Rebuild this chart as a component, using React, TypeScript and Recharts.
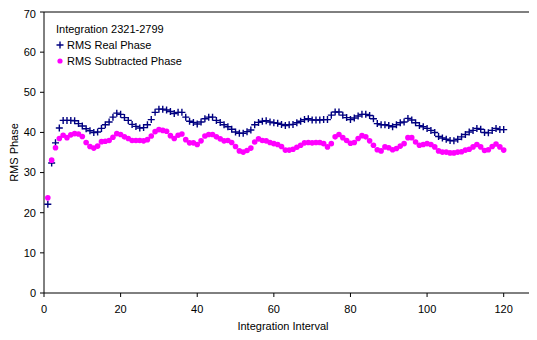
import React from 'react';
import {
  ScatterChart,
  Scatter,
  XAxis,
  YAxis,
  ReferenceLine,
  Legend,
} from 'recharts';

// RMS phase per integration interval (intervals 1..120)
const realPhase = [
  22.1, 32.4, 37.4, 41.1, 43.0, 43.0, 43.0, 42.9, 42.2, 41.6,
  40.9, 40.4, 40.0, 40.1, 41.0, 41.9, 42.6, 43.8, 44.8, 44.5,
  43.7, 43.0, 42.0, 41.5, 41.1, 41.2, 41.9, 43.2, 45.0, 45.8,
  45.8, 45.6, 45.2, 44.7, 45.0, 45.0, 43.8, 42.8, 42.5, 42.1,
  42.6, 43.4, 43.8, 43.8, 43.0, 42.5, 41.9, 41.4, 40.8, 40.1,
  39.8, 39.8, 40.2, 40.6, 41.9, 42.5, 42.8, 42.9, 42.6, 42.4,
  42.3, 42.0, 41.7, 41.9, 42.0, 42.4, 42.8, 43.2, 43.4, 43.1,
  43.1, 43.1, 43.2, 43.2, 44.3, 45.1, 45.1, 44.3, 43.7, 43.2,
  43.6, 44.1, 44.5, 44.5, 44.2, 43.4, 42.2, 41.9, 41.9, 41.7,
  41.4, 41.9, 42.4, 42.6, 43.5, 43.1, 42.4, 41.7, 41.4, 41.0,
  40.5, 40.0, 39.0, 38.6, 38.3, 38.0, 37.9, 38.3, 38.9, 39.5,
  40.1, 40.5, 41.0, 40.8, 40.0, 39.9, 40.5, 41.0, 40.7, 40.7,
];

const subtractedPhase = [
  23.7, 33.1, 36.2, 38.5, 39.3, 38.7, 39.4, 39.7, 39.6, 39.0,
  37.5, 36.5, 36.1, 36.6, 37.7, 37.8, 38.0, 38.8, 39.7, 39.5,
  38.9, 38.5, 38.0, 38.0, 38.0, 37.9, 38.2, 39.1, 40.2, 40.7,
  40.5, 40.3, 39.2, 38.5, 39.3, 39.6, 38.2, 37.4, 37.4, 37.0,
  37.9, 39.1, 39.5, 39.5, 38.9, 38.4, 37.9, 38.0, 37.5, 36.5,
  35.4, 35.1, 35.5, 36.1, 37.6, 38.4, 38.0, 37.9, 37.5, 37.2,
  37.0, 36.5, 35.6, 35.6, 35.8, 36.3, 36.8, 37.4, 37.5, 37.4,
  37.5, 37.5, 37.2, 36.4, 37.2, 38.9, 39.5, 38.7, 38.0, 37.3,
  37.5, 38.5, 39.2, 38.9, 37.9, 36.8, 35.7, 35.4, 36.4, 36.2,
  35.7, 36.0, 36.6, 37.2, 38.7, 38.7, 37.6, 36.8, 37.0, 37.2,
  37.0, 36.4, 35.4, 35.1, 35.1, 34.9, 34.9, 35.1, 35.2, 35.6,
  35.8, 36.4, 37.0, 36.4, 35.5, 35.7, 36.5, 37.1, 36.4, 35.6,
];

const intervals = realPhase.map((_, i) => i + 1);

const xTicks = [0, 20, 40, 60, 80, 100, 120];
const yTicks = [0, 10, 20, 30, 40, 50, 60, 70];

const REAL_COLOR = '#000080';
const SUB_COLOR = '#FF00FF';
const FONT = '"Liberation Sans", Arial, sans-serif';

const realData = intervals.map((x, i) => ({ x, y: realPhase[i] }));
const subData = intervals.map((x, i) => ({ x, y: subtractedPhase[i] }));

const PlusMark = (props: any) => {
  const { cx, cy } = props;
  if (cx == null || cy == null) return null;
  return (
    <path
      d={`M${cx - 3.5},${cy}H${cx + 3.5}M${cx},${cy - 3.5}V${cy + 3.5}`}
      stroke={REAL_COLOR}
      strokeWidth={1.4}
    />
  );
};

const DotMark = (props: any) => {
  const { cx, cy } = props;
  if (cx == null || cy == null) return null;
  return <circle cx={cx} cy={cy} r={2.8} fill={SUB_COLOR} />;
};

const LegendBox = () => (
  <div style={{ fontFamily: FONT, fontSize: 11, lineHeight: '16px', color: '#000' }}>
    <div>Integration 2321-2799</div>
    <div style={{ display: 'flex', alignItems: 'center' }}>
      <svg width={8} height={8} style={{ marginRight: 3 }}>
        <path d="M0.5,4H7.5M4,0.5V7.5" stroke={REAL_COLOR} strokeWidth={1.4} />
      </svg>
      RMS Real Phase
    </div>
    <div style={{ display: 'flex', alignItems: 'center' }}>
      <svg width={8} height={8} style={{ marginRight: 3 }}>
        <circle cx={4} cy={4} r={2.6} fill={SUB_COLOR} />
      </svg>
      RMS Subtracted Phase
    </div>
  </div>
);

export default function App() {
  return (
    <div style={{ width: 529, height: 332, overflow: 'hidden' }}>
      <ScatterChart
        width={540}
        height={332}
        margin={{ top: 4, right: 6, bottom: 17, left: 0 }}
        style={{ fontFamily: FONT }}
      >
        <XAxis
          type="number"
          dataKey="x"
          domain={[0, 130]}
          ticks={xTicks}
          height={30}
          tickSize={4}
          tickMargin={8}
          axisLine={{ stroke: '#000' }}
          tickLine={{ stroke: '#000' }}
          tick={{ fill: '#000', fontSize: 11 }}
          label={{
            value: 'Integration Interval',
            position: 'insideBottom',
            offset: -7,
            dx: -10,
            fill: '#000',
            fontSize: 11,
          }}
        />
        <YAxis
          type="number"
          dataKey="y"
          domain={[0, 70]}
          ticks={yTicks}
          width={36}
          tickSize={4}
          tickMargin={4}
          axisLine={{ stroke: '#000' }}
          tickLine={{ stroke: '#000' }}
          tick={{ fill: '#000', fontSize: 11 }}
          label={{
            value: 'RMS Phase',
            angle: -90,
            position: 'insideLeft',
            offset: 6,
            fill: '#000',
            fontSize: 11,
            style: { textAnchor: 'middle' },
          }}
        />
        <ReferenceLine y={70} stroke="#000" />
        {/* vertical + centred + middle keeps the legend from reserving plot space */}
        <Legend
          layout="vertical"
          align="center"
          verticalAlign="middle"
          content={<LegendBox />}
          wrapperStyle={{ position: 'absolute', left: 48, top: 13, width: 'auto' }}
        />
        <Scatter
          name="RMS Real Phase"
          data={realData}
          shape={PlusMark}
          isAnimationActive={false}
        />
        <Scatter
          name="RMS Subtracted Phase"
          data={subData}
          shape={DotMark}
          isAnimationActive={false}
        />
      </ScatterChart>
    </div>
  );
}
